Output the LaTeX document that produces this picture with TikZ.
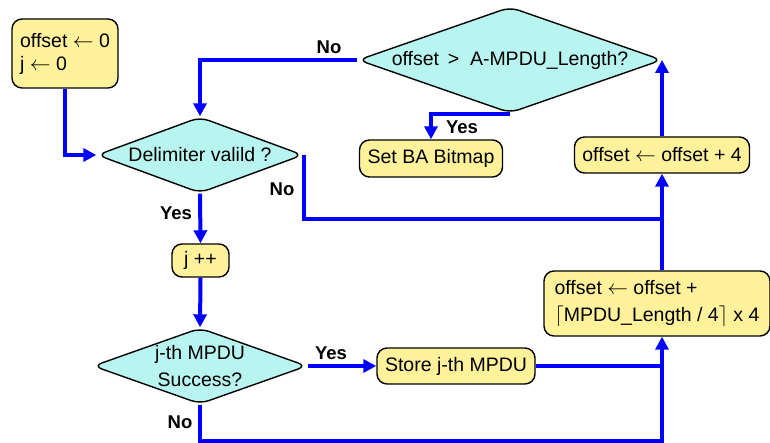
\documentclass[tikz,border=0pt]{standalone}
\usepackage{fontspec}
\setmainfont{Liberation Sans}
\usetikzlibrary{shapes.geometric,arrows.meta}
\definecolor{boxyellow}{HTML}{FFF29B}
\definecolor{diacyan}{HTML}{B8F5F0}
\definecolor{flowblue}{HTML}{0000FF}
\tikzset{
  proc/.style={draw=black, line width=1.4pt, fill=boxyellow, rounded corners=10pt, inner sep=0pt,
    font=\fontsize{19.5}{25}\selectfont},
  decide/.style={draw=black, line width=1.4pt, fill=diacyan, shape=diamond, rounded corners=9pt, inner sep=0pt,
    font=\fontsize{19.5}{27}\selectfont, align=center},
  conn/.style={draw=flowblue, line width=4pt, line join=miter},
  flow/.style={conn, -{Triangle[length=13pt,width=13pt]}},
  lbl/.style={font=\fontsize{18.5}{22}\bfseries\selectfont, inner sep=0pt}
}
\begin{document}
\begin{tikzpicture}[x=1pt,y=-1pt]
\useasboundingbox (0,0) rectangle (770,443);
% nodes
\node[proc, minimum width=106pt, minimum height=69pt, align=left] (init) at (65,53.5) {offset $\leftarrow$ 0\\[-2pt]j $\leftarrow$ 0};
\node[decide, shape aspect=2.87, minimum width=304pt, minimum height=106pt] (top) at (510,60) {offset \,\textgreater\ \ A-MPDU\_Length?};
\node[decide, shape aspect=2.71, minimum width=206pt, minimum height=76pt] (delim) at (200,155) {Delimiter valild ?};
\node[proc, minimum width=143pt, minimum height=37pt] (setba) at (431,158.5) {Set BA Bitmap};
\node[proc, minimum width=175pt, minimum height=36pt] (box4) at (662,155) {offset $\leftarrow$ offset + 4};
\node[proc, minimum width=57pt, minimum height=33pt] (jpp) at (200.5,260.5) {j ++};
\node[decide, shape aspect=2.8, minimum width=214pt, minimum height=76pt] (dec2) at (200,366) {j-th MPDU\\Success?};
\node[proc, minimum width=158pt, minimum height=36pt] (store) at (456,366) {Store j-th MPDU};
\node[proc, minimum width=226pt, minimum height=65pt, align=left] (big) at (657,303.5) {offset $\leftarrow$ offset +\\[2pt]$\lceil$MPDU\_Length / 4$\rceil$ x 4};
\coordinate (n1) at (662,219);
\coordinate (n2) at (662,441);
% connectors
\draw[flow] (init.south) |- (delim.west);
\draw[flow] (top.west) -| (delim.north);
\draw[flow] (top.south) -| (setba.north);
\draw[flow] (box4.north) -- (box4.north |- top.east);
\draw[flow] (box4.south |- big.north) -- (box4.south);
\draw[conn] (delim.east) |- (n1);
\draw[flow] (delim.south) -- (jpp.north);
\draw[flow] (jpp.south) -- (dec2.north);
\draw[flow] (dec2.east) -- (store.west);
\draw[conn] (store.east) -- (store.east -| n2);
\draw[flow] (dec2.south) |- (n2) -- (n2 |- big.south);
% labels
\node[lbl] (l1) at (329,47) {No};
\node[lbl] (l2) at (462,127) {Yes};
\node[lbl] (l3) at (282,189) {No};
\node[lbl] (l4) at (176,213) {Yes};
\node[lbl] (l5) at (331,353) {Yes};
\node[lbl] (l6) at (180,422) {No};
\end{tikzpicture}
\end{document}
